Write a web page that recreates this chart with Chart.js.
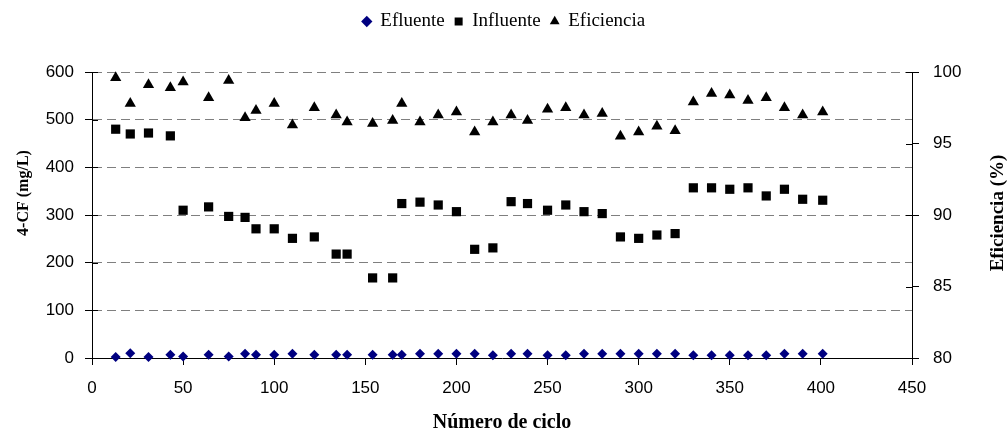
<!DOCTYPE html>
<html>
<head>
<meta charset="utf-8">
<script src="https://cdn.jsdelivr.net/npm/chart.js"></script>
<style>
  html, body { margin: 0; padding: 0; background: #fff; }
  #wrap { width: 1008px; height: 433px; }
</style>
</head>
<body>
<div id="wrap"><canvas id="chart"></canvas></div>
<script>
// cycle number (x) shared by the three series
var cycles = [13, 21, 31, 43, 50, 64, 75, 84, 90, 100, 110, 122, 134, 140, 154, 165, 170, 180, 190, 200,
              210, 220, 230, 239, 250, 260, 270, 280, 290, 300, 310, 320, 330, 340, 350, 360, 370, 380, 390, 401];
// 4-CF (mg/L)
var efluente = [2, 10, 2, 7, 3, 7, 3, 9, 7, 7, 9, 7, 7, 7, 7, 7, 7, 9, 9, 9,
                9, 6, 9, 9, 6, 6, 9, 9, 9, 9, 9, 9, 6, 6, 6, 6, 6, 9, 9, 9];
var influente = [480, 470, 472, 466, 310, 317, 297, 295, 271, 271, 251, 254, 218, 218, 168, 168, 324, 327, 321, 307,
                 228, 231, 328, 324, 310, 321, 307, 303, 254, 251, 258, 261, 357, 357, 354, 357, 340, 354, 333, 331];
// Eficiencia (%)
var eficiencia = [99.6, 97.8, 99.1, 98.9, 99.3, 98.2, 99.4, 96.8, 97.3, 97.8, 96.3, 97.5, 97.0, 96.5, 96.4, 96.6, 97.8, 96.5, 97.0, 97.2,
                  95.8, 96.5, 97.0, 96.6, 97.4, 97.5, 97.0, 97.1, 95.5, 95.8, 96.2, 95.9, 97.9, 98.5, 98.4, 98.0, 98.2, 97.5, 97.0, 97.2];

var xRange = [0, 450, 50];
var yRange = [0, 600, 100];
var y1Range = [80, 100, 5];

function pts(ys) {
  return cycles.map(function (c, i) { return { x: c, y: ys[i] }; });
}

Chart.defaults.font.family = '"Liberation Sans", Arial, sans-serif';
Chart.defaults.color = '#000';

var serif = '"Liberation Serif", "Times New Roman", serif';
var tickFont = { size: 17 };

// makes room under the legend so the plot starts where the original does
var legendSpace = {
  id: 'legendSpace',
  beforeLayout: function (chart) {
    var lg = chart.legend;
    if (lg && !lg._patched) {
      var fit = lg.fit;
      lg.fit = function () { fit.call(this); this.height = 70; };
      lg._patched = true;
    }
  }
};

// inner halves of the y tick marks + the two vertical axis titles
var extras = {
  id: 'extras',
  afterDraw: function (chart) {
    var ctx = chart.ctx, a = chart.chartArea;
    var y = chart.scales.y, y1 = chart.scales.y1;
    ctx.save();
    ctx.strokeStyle = '#000';
    ctx.lineWidth = 1;
    ctx.beginPath();
    y.ticks.forEach(function (t) {
      var p = Math.round(y.getPixelForValue(t.value)) + 0.5;
      ctx.moveTo(a.left, p); ctx.lineTo(a.left + 6, p);
    });
    y1.ticks.forEach(function (t) {
      var p = Math.round(y1.getPixelForValue(t.value)) + 0.5;
      ctx.moveTo(a.right, p); ctx.lineTo(a.right - 6, p);
    });
    ctx.stroke();

    ctx.fillStyle = '#000';
    ctx.textAlign = 'center';
    ctx.textBaseline = 'middle';
    ctx.save();
    ctx.translate(24, 193);
    ctx.rotate(-Math.PI / 2);
    ctx.font = 'bold 16px ' + serif;
    ctx.fillText('4-CF (mg/L)', 0, 0);
    ctx.restore();
    ctx.save();
    ctx.translate(998, 213);
    ctx.rotate(-Math.PI / 2);
    ctx.font = 'bold 19px ' + serif;
    ctx.fillText('Eficiencia (%)', 0, 0);
    ctx.restore();
    ctx.restore();
  }
};

new Chart(document.getElementById('chart'), {
  type: 'scatter',
  data: {
    datasets: [
      {
        label: 'Efluente',
        data: pts(efluente),
        yAxisID: 'y',
        pointStyle: 'rectRot',
        pointRadius: 5,
        borderWidth: 0,
        backgroundColor: '#000080',
        borderColor: '#000080',
        clip: false
      },
      {
        label: 'Influente',
        data: pts(influente),
        yAxisID: 'y',
        pointStyle: 'rect',
        pointRadius: 6.5,
        borderWidth: 0,
        backgroundColor: '#000',
        borderColor: '#000',
        clip: false
      },
      {
        label: 'Eficiencia',
        data: pts(eficiencia),
        yAxisID: 'y1',
        pointStyle: 'triangle',
        pointRadius: 6.5,
        borderWidth: 0,
        backgroundColor: '#000',
        borderColor: '#000',
        clip: false
      }
    ]
  },
  options: {
    responsive: true,
    maintainAspectRatio: false,
    animation: false,
    events: [],
    layout: { padding: { top: 2, left: 0, right: 0, bottom: 0 } },
    plugins: {
      legend: {
        position: 'top',
        labels: {
          usePointStyle: true,
          boxWidth: 8,
          boxHeight: 8,
          padding: 10,
          color: '#000',
          font: { family: serif, size: 19 }
        }
      },
      tooltip: { enabled: false }
    },
    scales: {
      x: {
        type: 'linear',
        min: xRange[0], max: xRange[1],
        ticks: { stepSize: xRange[2], font: tickFont, color: '#000', padding: 13 },
        grid: { drawOnChartArea: false, tickLength: 7, tickColor: '#000' },
        border: { color: '#000', width: 1 },
        title: {
          display: true, text: 'Número de ciclo', color: '#000',
          font: { family: serif, size: 20, weight: 'bold', lineHeight: 1 },
          padding: 0
        },
        afterFit: function (s) { s.height = 75; }
      },
      y: {
        position: 'left',
        min: yRange[0], max: yRange[1],
        ticks: { stepSize: yRange[2], font: tickFont, color: '#000', padding: 11 },
        grid: {
          color: function (c) { return c.tick && c.tick.value === 0 ? 'rgba(0,0,0,0)' : '#7f7f7f'; },
          tickColor: '#000',
          tickLength: 7
        },
        border: { color: '#000', width: 1, dash: [9, 5] },
        afterFit: function (s) { s.width = 92; }
      },
      y1: {
        position: 'right',
        min: y1Range[0], max: y1Range[1],
        ticks: { stepSize: y1Range[2], font: tickFont, color: '#000', padding: 14 },
        grid: { drawOnChartArea: false, tickLength: 7, tickColor: '#000' },
        border: { color: '#000', width: 1 },
        afterFit: function (s) { s.width = 96; }
      }
    }
  },
  plugins: [legendSpace, extras]
});
</script>
</body>
</html>
